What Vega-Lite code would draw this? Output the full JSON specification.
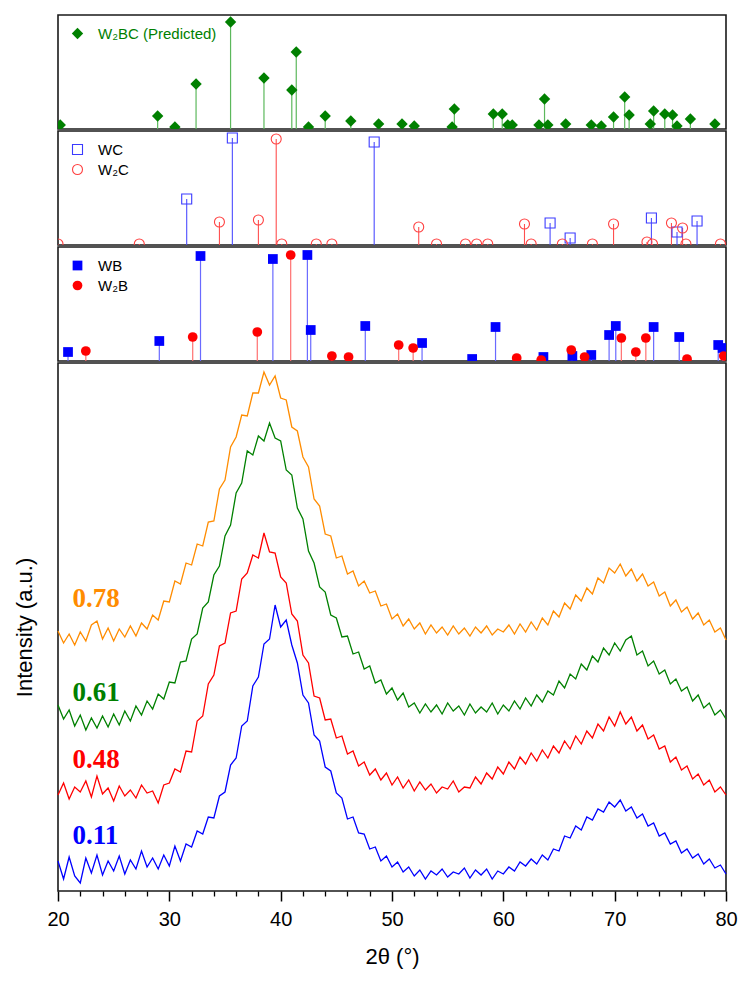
{
 "$schema": "https://vega.github.io/schema/vega-lite/v6.json",
 "background": "white",
 "padding": {"left": 12, "top": 14, "right": 16, "bottom": 5},
 "spacing": 0,
 "config": {
  "view": {"stroke": "#1a1a1a", "strokeWidth": 1.6},
  "font": "Liberation Sans",
  "axis": {"grid": false}
 },
 "resolve": {"scale": {"color": "independent", "shape": "independent"}, "legend": {"color": "independent", "shape": "independent"}},
 "datasets": {
  "w2bc": [
   {"p":"W₂BC (Predicted)","t":20.2,"h":4},{"p":"W₂BC (Predicted)","t":28.95,"h":13},{"p":"W₂BC (Predicted)","t":30.5,"h":2},
   {"p":"W₂BC (Predicted)","t":32.4,"h":45},{"p":"W₂BC (Predicted)","t":35.5,"h":107},{"p":"W₂BC (Predicted)","t":38.5,"h":51},
   {"p":"W₂BC (Predicted)","t":41.0,"h":39},{"p":"W₂BC (Predicted)","t":41.4,"h":77},{"p":"W₂BC (Predicted)","t":42.5,"h":2},
   {"p":"W₂BC (Predicted)","t":44.0,"h":13},{"p":"W₂BC (Predicted)","t":46.3,"h":8},{"p":"W₂BC (Predicted)","t":48.8,"h":5},
   {"p":"W₂BC (Predicted)","t":50.9,"h":5},{"p":"W₂BC (Predicted)","t":52.0,"h":3},{"p":"W₂BC (Predicted)","t":55.4,"h":2},
   {"p":"W₂BC (Predicted)","t":55.6,"h":20},{"p":"W₂BC (Predicted)","t":59.1,"h":15},{"p":"W₂BC (Predicted)","t":59.9,"h":15},
   {"p":"W₂BC (Predicted)","t":60.4,"h":4},{"p":"W₂BC (Predicted)","t":60.8,"h":4},{"p":"W₂BC (Predicted)","t":63.2,"h":4},
   {"p":"W₂BC (Predicted)","t":63.7,"h":30},{"p":"W₂BC (Predicted)","t":64.0,"h":4},{"p":"W₂BC (Predicted)","t":65.6,"h":5},
   {"p":"W₂BC (Predicted)","t":67.9,"h":4},{"p":"W₂BC (Predicted)","t":68.8,"h":3},{"p":"W₂BC (Predicted)","t":69.9,"h":12},
   {"p":"W₂BC (Predicted)","t":70.9,"h":32},{"p":"W₂BC (Predicted)","t":71.3,"h":14},{"p":"W₂BC (Predicted)","t":73.2,"h":5},
   {"p":"W₂BC (Predicted)","t":73.5,"h":18},{"p":"W₂BC (Predicted)","t":74.5,"h":15},{"p":"W₂BC (Predicted)","t":75.2,"h":14},
   {"p":"W₂BC (Predicted)","t":75.6,"h":3},{"p":"W₂BC (Predicted)","t":76.8,"h":10},{"p":"W₂BC (Predicted)","t":79.0,"h":5}
  ],
  "carb": [
   {"p":"WC","t":31.56,"h":46},{"p":"WC","t":35.66,"h":107},{"p":"WC","t":48.4,"h":103},{"p":"WC","t":64.2,"h":22},
   {"p":"WC","t":66.0,"h":7},{"p":"WC","t":73.3,"h":27},{"p":"WC","t":75.6,"h":13},{"p":"WC","t":77.4,"h":24},
   {"p":"W₂C","t":20.0,"h":1},{"p":"W₂C","t":27.3,"h":1},{"p":"W₂C","t":34.5,"h":23},{"p":"W₂C","t":38.0,"h":25},
   {"p":"W₂C","t":39.6,"h":106},{"p":"W₂C","t":40.1,"h":1},{"p":"W₂C","t":43.2,"h":1},{"p":"W₂C","t":44.6,"h":1},
   {"p":"W₂C","t":52.4,"h":18},{"p":"W₂C","t":54.0,"h":1},{"p":"W₂C","t":56.6,"h":1},{"p":"W₂C","t":57.6,"h":1},
   {"p":"W₂C","t":58.6,"h":1},{"p":"W₂C","t":61.9,"h":21},{"p":"W₂C","t":62.5,"h":1},{"p":"W₂C","t":65.3,"h":1},
   {"p":"W₂C","t":68.0,"h":1},{"p":"W₂C","t":69.9,"h":21},{"p":"W₂C","t":72.9,"h":3},{"p":"W₂C","t":73.4,"h":1},
   {"p":"W₂C","t":75.1,"h":22},{"p":"W₂C","t":76.1,"h":17},{"p":"W₂C","t":76.4,"h":1},{"p":"W₂C","t":79.5,"h":1}
  ],
  "bor": [
   {"p":"WB","t":20.9,"h":9},{"p":"WB","t":29.1,"h":20},{"p":"WB","t":32.8,"h":105},{"p":"WB","t":39.3,"h":102},
   {"p":"WB","t":42.4,"h":106},{"p":"WB","t":42.7,"h":31},{"p":"WB","t":47.6,"h":35},{"p":"WB","t":52.7,"h":18},
   {"p":"WB","t":57.2,"h":2},{"p":"WB","t":59.3,"h":34},{"p":"WB","t":63.6,"h":4},{"p":"WB","t":66.2,"h":5},
   {"p":"WB","t":67.9,"h":6},{"p":"WB","t":69.5,"h":26},{"p":"WB","t":70.1,"h":35},{"p":"WB","t":73.5,"h":34},
   {"p":"WB","t":75.8,"h":24},{"p":"WB","t":79.3,"h":16},{"p":"WB","t":79.7,"h":13},
   {"p":"W₂B","t":22.5,"h":10},{"p":"W₂B","t":32.1,"h":24},{"p":"W₂B","t":37.9,"h":29},{"p":"W₂B","t":40.9,"h":106},
   {"p":"W₂B","t":44.6,"h":5},{"p":"W₂B","t":46.1,"h":4},{"p":"W₂B","t":50.6,"h":16},{"p":"W₂B","t":51.9,"h":13},
   {"p":"W₂B","t":61.2,"h":3},{"p":"W₂B","t":63.4,"h":1},{"p":"W₂B","t":66.1,"h":11},{"p":"W₂B","t":67.3,"h":4},
   {"p":"W₂B","t":70.6,"h":23},{"p":"W₂B","t":71.9,"h":9},{"p":"W₂B","t":72.8,"h":23},{"p":"W₂B","t":76.5,"h":2},
   {"p":"W₂B","t":79.8,"h":5}
  ],
  "xrd": [
   {"t":20,"b":30,"r":96,"g":186,"o":260},{"t":20.5,"b":12,"r":108,"g":172,"o":248},{"t":21,"b":34,"r":92,"g":181,"o":257},
   {"t":21.5,"b":15,"r":104,"g":165,"o":246},{"t":22,"b":8,"r":99,"g":176,"o":259},{"t":22.5,"b":33,"r":110,"g":161,"o":250},
   {"t":23,"b":18,"r":94,"g":173,"o":266},{"t":23.5,"b":36,"r":115,"g":163,"o":270},{"t":24,"b":16,"r":97,"g":175,"o":252},
   {"t":24.5,"b":30,"r":103,"g":164,"o":263},{"t":25,"b":20,"r":90,"g":177,"o":250},{"t":25.5,"b":35,"r":105,"g":166,"o":262},
   {"t":26,"b":17,"r":95,"g":180,"o":254},{"t":26.5,"b":31,"r":101,"g":170,"o":265},{"t":27,"b":22,"r":93,"g":185,"o":255},
   {"t":27.5,"b":40,"r":106,"g":176,"o":268},{"t":28,"b":24,"r":98,"g":190,"o":262},{"t":28.5,"b":33,"r":100,"g":182,"o":276},
   {"t":29,"b":22,"r":88,"g":197,"o":271},{"t":29.5,"b":36,"r":106,"g":192,"o":290},{"t":30,"b":25,"r":108,"g":209,"o":289},
   {"t":30.5,"b":45,"r":122,"g":208,"o":310},{"t":31,"b":30,"r":119,"g":229,"o":307},{"t":31.5,"b":47,"r":140,"g":230,"o":328},
   {"t":32,"b":44,"r":139,"g":252,"o":326},{"t":32.5,"b":60,"r":170,"g":257,"o":347},{"t":33,"b":57,"r":175,"g":283,"o":345},
   {"t":33.5,"b":74,"r":207,"g":289,"o":369},{"t":34,"b":73,"r":216,"g":316,"o":370},{"t":34.5,"b":95,"r":245,"g":325,"o":402},
   {"t":35,"b":99,"r":248,"g":355,"o":411},{"t":35.5,"b":126,"r":278,"g":366,"o":444},{"t":36,"b":133,"r":280,"g":398,"o":454},
   {"t":36.5,"b":165,"r":312,"g":408,"o":476},{"t":37,"b":170,"r":318,"g":440,"o":475},{"t":37.5,"b":205,"r":336,"g":436,"o":498},
   {"t":38,"b":214,"r":333,"g":455,"o":498},{"t":38.5,"b":247,"r":358,"g":450,"o":519},{"t":39,"b":252,"r":339,"g":468,"o":506},
   {"t":39.5,"b":286,"r":338,"g":453,"o":515},{"t":40,"b":264,"r":314,"g":450,"o":493},{"t":40.5,"b":271,"r":308,"g":421,"o":491},
   {"t":41,"b":246,"r":277,"g":416,"o":464},{"t":41.5,"b":228,"r":270,"g":383,"o":460},{"t":42,"b":196,"r":236,"g":372,"o":434},
   {"t":42.5,"b":188,"r":228,"g":340,"o":424},{"t":43,"b":156,"r":195,"g":328,"o":392},{"t":43.5,"b":150,"r":193,"g":304,"o":385},
   {"t":44,"b":124,"r":171,"g":299,"o":357},{"t":44.5,"b":120,"r":172,"g":276,"o":355},{"t":45,"b":98,"r":153,"g":273,"o":333},
   {"t":45.5,"b":93,"r":155,"g":254,"o":335},{"t":46,"b":72,"r":137,"g":255,"o":317},{"t":46.5,"b":74,"r":140,"g":237,"o":320},
   {"t":47,"b":58,"r":125,"g":239,"o":305},{"t":47.5,"b":57,"r":129,"g":222,"o":310},{"t":48,"b":42,"r":116,"g":225,"o":298},
   {"t":48.5,"b":44,"r":122,"g":208,"o":300},{"t":49,"b":30,"r":111,"g":211,"o":285},{"t":49.5,"b":35,"r":118,"g":197,"o":287},
   {"t":50,"b":24,"r":106,"g":203,"o":272},{"t":50.5,"b":29,"r":114,"g":191,"o":277},{"t":51,"b":19,"r":103,"g":198,"o":265},
   {"t":51.5,"b":24,"r":111,"g":184,"o":272},{"t":52,"b":15,"r":100,"g":188,"o":262},{"t":52.5,"b":21,"r":109,"g":178,"o":268},
   {"t":53,"b":12,"r":101,"g":187,"o":257},{"t":53.5,"b":20,"r":107,"g":179,"o":266},{"t":54,"b":16,"r":98,"g":186,"o":258},
   {"t":54.5,"b":22,"r":104,"g":177,"o":264},{"t":55,"b":14,"r":102,"g":188,"o":256},{"t":55.5,"b":19,"r":110,"g":180,"o":265},
   {"t":56,"b":17,"r":99,"g":185,"o":257},{"t":56.5,"b":23,"r":104,"g":176,"o":263},{"t":57,"b":13,"r":103,"g":187,"o":255},
   {"t":57.5,"b":21,"r":114,"g":178,"o":264},{"t":58,"b":16,"r":107,"g":184,"o":258},{"t":58.5,"b":22,"r":118,"g":179,"o":265},
   {"t":59,"b":12,"r":112,"g":188,"o":256},{"t":59.5,"b":20,"r":124,"g":177,"o":262},{"t":60,"b":17,"r":117,"g":186,"o":259},
   {"t":60.5,"b":24,"r":129,"g":180,"o":266},{"t":61,"b":20,"r":122,"g":190,"o":257},{"t":61.5,"b":29,"r":134,"g":182,"o":267},
   {"t":62,"b":25,"r":127,"g":193,"o":259},{"t":62.5,"b":32,"r":138,"g":185,"o":269},{"t":63,"b":27,"r":130,"g":196,"o":261},
   {"t":63.5,"b":36,"r":141,"g":189,"o":273},{"t":64,"b":31,"r":133,"g":200,"o":266},{"t":64.5,"b":42,"r":145,"g":196,"o":280},
   {"t":65,"b":40,"r":138,"g":210,"o":274},{"t":65.5,"b":55,"r":150,"g":203,"o":288},{"t":66,"b":53,"r":142,"g":217,"o":282},
   {"t":66.5,"b":65,"r":155,"g":212,"o":296},{"t":67,"b":61,"r":147,"g":227,"o":290},{"t":67.5,"b":74,"r":160,"g":221,"o":303},
   {"t":68,"b":71,"r":153,"g":235,"o":297},{"t":68.5,"b":82,"r":167,"g":229,"o":313},{"t":69,"b":79,"r":160,"g":243,"o":308},
   {"t":69.5,"b":89,"r":174,"g":236,"o":323},{"t":70,"b":84,"r":165,"g":248,"o":318},{"t":70.5,"b":91,"r":179,"g":240,"o":327},
   {"t":71,"b":80,"r":167,"g":251,"o":315},{"t":71.5,"b":84,"r":174,"g":255,"o":322},{"t":72,"b":73,"r":160,"g":236,"o":310},
   {"t":72.5,"b":77,"r":166,"g":240,"o":317},{"t":73,"b":65,"r":152,"g":225,"o":305},{"t":73.5,"b":68,"r":156,"g":230,"o":309},
   {"t":74,"b":55,"r":142,"g":217,"o":295},{"t":74.5,"b":58,"r":145,"g":221,"o":299},{"t":75,"b":47,"r":129,"g":207,"o":285},
   {"t":75.5,"b":50,"r":134,"g":212,"o":291},{"t":76,"b":38,"r":121,"g":200,"o":279},{"t":76.5,"b":42,"r":125,"g":204,"o":284},
   {"t":77,"b":33,"r":112,"g":190,"o":272},{"t":77.5,"b":37,"r":117,"g":196,"o":278},{"t":78,"b":27,"r":106,"g":183,"o":266},
   {"t":78.5,"b":32,"r":111,"g":188,"o":271},{"t":79,"b":23,"r":99,"g":176,"o":259},{"t":79.5,"b":26,"r":104,"g":181,"o":263},
   {"t":80,"b":17,"r":96,"g":172,"o":251}
  ],
  "labels": [
   {"s":"o","label":"0.78","t":21.3,"v":292},
   {"s":"g","label":"0.61","t":21.3,"v":198},
   {"s":"r","label":"0.48","t":21.3,"v":131},
   {"s":"b","label":"0.11","t":21.3,"v":55}
  ]
 },
 "vconcat": [
  {
   "width": 668, "height": 114,
   "data": {"name": "w2bc"},
   "layer": [
    {"mark": {"type": "rule", "color": "#5cb85c", "strokeWidth": 1.2, "clip": true},
     "encoding": {
      "x": {"field": "t", "type": "quantitative", "scale": {"domain": [20, 80], "nice": false}, "axis": null},
      "y": {"field": "h", "type": "quantitative", "scale": {"domain": [0, 114], "nice": false}, "axis": null},
      "y2": {"datum": 0}}},
    {"mark": {"type": "point", "filled": true, "size": 130, "opacity": 1, "clip": true},
     "encoding": {
      "x": {"field": "t", "type": "quantitative", "scale": {"domain": [20, 80], "nice": false}, "axis": null},
      "y": {"field": "h", "type": "quantitative", "scale": {"domain": [0, 114], "nice": false}, "axis": null},
      "color": {"field": "p", "type": "nominal", "scale": {"domain": ["W₂BC (Predicted)"], "range": ["#008000"]},
       "legend": {"orient": "none", "legendX": 12, "legendY": 11, "title": null, "padding": 0, "labelFontSize": 15, "labelFont": "Liberation Sans", "labelColor": "#008000", "labelOffset": 13, "symbolSize": 130}},
      "shape": {"field": "p", "type": "nominal", "scale": {"domain": ["W₂BC (Predicted)"], "range": ["diamond"]},
       "legend": {"orient": "none", "legendX": 12, "legendY": 11, "title": null, "padding": 0, "labelFontSize": 15, "labelFont": "Liberation Sans", "labelColor": "#008000", "labelOffset": 13, "symbolSize": 130}}}}
   ]
  },
  {
   "width": 668, "height": 114,
   "data": {"name": "carb"},
   "layer": [
    {"transform": [{"filter": "datum.p == 'WC'"}],
     "mark": {"type": "rule", "color": "#4d4dff", "strokeWidth": 1.1, "clip": true},
     "encoding": {
      "x": {"field": "t", "type": "quantitative", "scale": {"domain": [20, 80], "nice": false}, "axis": null},
      "y": {"field": "h", "type": "quantitative", "scale": {"domain": [0, 114], "nice": false}, "axis": null},
      "y2": {"datum": 0}}},
    {"transform": [{"filter": "datum.p != 'WC'"}],
     "mark": {"type": "rule", "color": "#ff5050", "strokeWidth": 1.1, "clip": true},
     "encoding": {
      "x": {"field": "t", "type": "quantitative", "scale": {"domain": [20, 80], "nice": false}, "axis": null},
      "y": {"field": "h", "type": "quantitative", "scale": {"domain": [0, 114], "nice": false}, "axis": null},
      "y2": {"datum": 0}}},
    {"mark": {"type": "point", "filled": false, "size": 100, "strokeWidth": 1.1, "opacity": 1, "clip": true},
     "encoding": {
      "x": {"field": "t", "type": "quantitative", "scale": {"domain": [20, 80], "nice": false}, "axis": null},
      "y": {"field": "h", "type": "quantitative", "scale": {"domain": [0, 114], "nice": false}, "axis": null},
      "color": {"field": "p", "type": "nominal", "scale": {"domain": ["WC", "W₂C"], "range": ["#3b3bff", "#ff4040"]},
       "legend": {"orient": "none", "legendX": 12, "legendY": 11, "title": null, "padding": 0, "labelFontSize": 15, "labelFont": "Liberation Sans", "labelOffset": 13, "symbolSize": 100, "symbolStrokeWidth": 1.1, "rowPadding": 4,
        "encode": {"labels": {"update": {"fill": {"signal": "datum.value == 'WC' ? '#2020ff' : '#ff3030'"}}}}}},
      "shape": {"field": "p", "type": "nominal", "scale": {"domain": ["WC", "W₂C"], "range": ["square", "circle"]},
       "legend": {"orient": "none", "legendX": 12, "legendY": 11, "title": null, "padding": 0, "labelFontSize": 15, "labelFont": "Liberation Sans", "labelOffset": 13, "symbolSize": 100, "symbolStrokeWidth": 1.1, "rowPadding": 4,
        "encode": {"labels": {"update": {"fill": {"signal": "datum.value == 'WC' ? '#2020ff' : '#ff3030'"}}}}}}}}
   ]
  },
  {
   "width": 668, "height": 114,
   "data": {"name": "bor"},
   "layer": [
    {"transform": [{"filter": "datum.p == 'WB'"}],
     "mark": {"type": "rule", "color": "#6a6aff", "strokeWidth": 1.2, "clip": true},
     "encoding": {
      "x": {"field": "t", "type": "quantitative", "scale": {"domain": [20, 80], "nice": false}, "axis": null},
      "y": {"field": "h", "type": "quantitative", "scale": {"domain": [0, 114], "nice": false}, "axis": null},
      "y2": {"datum": 0}}},
    {"transform": [{"filter": "datum.p != 'WB'"}],
     "mark": {"type": "rule", "color": "#ff7070", "strokeWidth": 1.2, "clip": true},
     "encoding": {
      "x": {"field": "t", "type": "quantitative", "scale": {"domain": [20, 80], "nice": false}, "axis": null},
      "y": {"field": "h", "type": "quantitative", "scale": {"domain": [0, 114], "nice": false}, "axis": null},
      "y2": {"datum": 0}}},
    {"mark": {"type": "point", "filled": true, "size": 95, "opacity": 1, "clip": true},
     "encoding": {
      "x": {"field": "t", "type": "quantitative", "scale": {"domain": [20, 80], "nice": false}, "axis": null},
      "y": {"field": "h", "type": "quantitative", "scale": {"domain": [0, 114], "nice": false}, "axis": null},
      "color": {"field": "p", "type": "nominal", "scale": {"domain": ["WB", "W₂B"], "range": ["#0000ff", "#ff0000"]},
       "legend": {"orient": "none", "legendX": 12, "legendY": 11, "title": null, "padding": 0, "labelFontSize": 15, "labelFont": "Liberation Sans", "labelOffset": 13, "symbolSize": 95, "rowPadding": 4,
        "encode": {"labels": {"update": {"fill": {"signal": "datum.value == 'WB' ? '#0000ff' : '#ff2020'"}}}}}},
      "shape": {"field": "p", "type": "nominal", "scale": {"domain": ["WB", "W₂B"], "range": ["square", "circle"]},
       "legend": {"orient": "none", "legendX": 12, "legendY": 11, "title": null, "padding": 0, "labelFontSize": 15, "labelFont": "Liberation Sans", "labelOffset": 13, "symbolSize": 95, "rowPadding": 4,
        "encode": {"labels": {"update": {"fill": {"signal": "datum.value == 'WB' ? '#0000ff' : '#ff2020'"}}}}}}}}
   ]
  },
  {
   "width": 668, "height": 528,
   "layer": [
    {"data": {"name": "xrd"},
     "transform": [{"fold": ["b", "r", "g", "o"], "as": ["s", "v"]}],
     "mark": {"type": "line", "strokeWidth": 1.3},
     "encoding": {
      "x": {"field": "t", "type": "quantitative", "scale": {"domain": [20, 80], "nice": false},
       "axis": {"orient": "bottom", "values": [20, 30, 40, 50, 60, 70, 80], "domain": false, "grid": false, "tickSize": 10, "tickWidth": 1.5, "tickColor": "black", "labelFontSize": 20, "labelColor": "black", "labelPadding": 8, "labelFlush": false, "labelFont": "Liberation Sans", "title": "2θ (°)", "titleFontSize": 22, "titleFontWeight": "normal", "titleColor": "black", "titleFont": "Liberation Sans", "titlePadding": 17}},
      "y": {"field": "v", "type": "quantitative", "scale": {"domain": [0, 528], "nice": false},
       "axis": {"title": "Intensity (a.u.)", "labels": false, "ticks": false, "domain": false, "grid": false, "titleFontSize": 22, "titleFontWeight": "normal", "titleColor": "black", "titleFont": "Liberation Sans", "titlePadding": 22}},
      "color": {"field": "s", "type": "nominal", "scale": {"domain": ["b", "r", "g", "o"], "range": ["#0000ff", "#ff0000", "#008000", "#ff8c00"]}, "legend": null}}},
    {"data": {"name": "labels"},
     "mark": {"type": "text", "font": "Liberation Serif", "fontWeight": "bold", "fontSize": 27, "align": "left", "baseline": "middle"},
     "encoding": {
      "x": {"field": "t", "type": "quantitative",
       "axis": {"orient": "bottom", "values": [22, 24, 26, 28, 32, 34, 36, 38, 42, 44, 46, 48, 52, 54, 56, 58, 62, 64, 66, 68, 72, 74, 76, 78], "labels": false, "domain": false, "grid": false, "tickSize": 5, "tickWidth": 1.3, "tickColor": "black", "title": null}},
      "y": {"field": "v", "type": "quantitative", "axis": null},
      "text": {"field": "label"},
      "color": {"field": "s", "type": "nominal", "legend": null}}}
   ],
   "resolve": {"axis": {"x": "independent", "y": "independent"}}
  }
 ]
}
